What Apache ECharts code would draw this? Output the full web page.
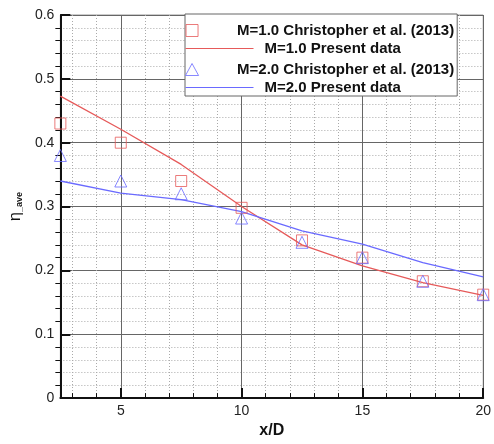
<!DOCTYPE html>
<html>
<head>
<meta charset="utf-8">
<script src="https://cdn.jsdelivr.net/npm/echarts@6/dist/echarts.min.js"></script>
<style>
  html, body { margin: 0; padding: 0; background: #fff; }
  #main { width: 494px; height: 444px; }
</style>
</head>
<body>
<div id="main"></div>
<script>
// data
var xPos = [2.5, 5, 7.5, 10, 12.5, 15, 17.5, 20];
var m1Exp = [0.43, 0.40, 0.34, 0.298, 0.247, 0.22, 0.183, 0.162];
var m1Sim = [0.473, 0.421, 0.366, 0.300, 0.240, 0.207, 0.181, 0.161];
var m2Exp = [0.38, 0.34, 0.32, 0.282, 0.244, 0.22, 0.183, 0.162];
var m2Sim = [0.340, 0.321, 0.311, 0.292, 0.262, 0.241, 0.212, 0.190];
var xMajor = [5, 10, 15, 20];
var xMinor = [3, 4, 6, 7, 8, 9, 11, 12, 13, 14, 16, 17, 18, 19];

var names = ['M=1.0 Christopher et al. (2013)', 'M=1.0 Present data',
             'M=2.0 Christopher et al. (2013)', 'M=2.0 Present data'];

var RED = '#e65a5a';
var BLUE = '#6a6aff';
var FONT = 'Liberation Sans, Arial, sans-serif';
var SQUARE_ICON = 'path://M0,0H11V11H0Z';
var TRI_ICON = 'path://M6,0L12,11H0Z';

function legendText() {
    return {
        fontFamily: FONT,
        fontWeight: 'bold',
        fontSize: 15,
        color: '#111',
        lineHeight: 12,
        padding: [0, 0, 0, 6]
    };
}

function pairs(xs, ys) {
    return xs.map(function (x, i) { return [x, ys[i]]; });
}

var chart = echarts.init(document.getElementById('main'));

var option = {
    animation: false,
    backgroundColor: '#fff',
    grid: {
        left: 58, right: 6, top: 15, bottom: 36,
        show: true,
        borderColor: '#999',
        borderWidth: 1
    },
    // two legends interleaved: symbols (rows 1,3, draws the box) and lines (rows 2,4)
    legend: [{
        data: [
            { name: names[0], icon: SQUARE_ICON,
              itemStyle: { color: '#fff', borderColor: RED, borderWidth: 1 } },
            { name: names[2], icon: TRI_ICON,
              itemStyle: { color: '#fff', borderColor: BLUE, borderWidth: 1 } }
        ],
        orient: 'vertical',
        left: 185,
        top: 14,
        itemWidth: 68,
        itemHeight: 12,
        itemGap: 24,
        symbolKeepAspect: true,
        padding: [9, 3, 19, 0],
        backgroundColor: '#fff',
        borderColor: '#666',
        borderWidth: 1,
        textStyle: legendText(),
        z: 4
    }, {
        data: [names[1], names[3]],
        orient: 'vertical',
        left: 185,
        top: 41,
        itemWidth: 68,
        itemHeight: 12,
        itemGap: 24,
        padding: 0,
        itemStyle: { opacity: 0 },
        lineStyle: { width: 1 },
        textStyle: legendText(),
        z: 5
    }],
    xAxis: [{
        type: 'value',
        min: 2.5,
        max: 20,
        name: 'x/D',
        nameLocation: 'middle',
        nameGap: 20,
        nameTextStyle: { fontFamily: FONT, fontWeight: 'bold', fontSize: 16, color: '#111' },
        axisLine: { show: true, lineStyle: { color: '#111', width: 2 } },
        axisTick: { show: true, inside: true, length: 10, customValues: xMajor,
                    lineStyle: { color: '#111', width: 2 } },
        axisLabel: { customValues: xMajor, margin: 6,
                     fontFamily: FONT, fontSize: 14, color: '#222' },
        splitLine: { show: true, lineStyle: { color: '#666', width: 1 } }
    }, {
        type: 'value',
        min: 2.5,
        max: 20,
        position: 'bottom',
        axisLine: { show: false },
        axisTick: { show: true, inside: true, length: 5, customValues: xMinor,
                    lineStyle: { color: '#111', width: 1 } },
        axisLabel: { show: false },
        splitLine: { show: true, lineStyle: { color: '#aaa', width: 1, type: [1, 2] } }
    }],
    yAxis: {
        type: 'value',
        min: 0,
        max: 0.6,
        interval: 0.1,
        name: '{a|η}{b|_ave}',
        nameLocation: 'middle',
        nameGap: 33,
        nameTextStyle: {
            rich: {
                a: { fontFamily: FONT, fontSize: 16, color: '#111', lineHeight: 16 },
                b: { fontFamily: FONT, fontSize: 9, fontWeight: 'bold', color: '#111',
                     verticalAlign: 'bottom', lineHeight: 16, padding: [6, 0, 0, 0] }
            }
        },
        axisLine: { show: true, lineStyle: { color: '#111', width: 2 } },
        axisTick: { show: true, inside: true, length: 10, lineStyle: { color: '#111', width: 2 } },
        minorTick: { show: true, splitNumber: 5, length: -5, lineStyle: { color: '#111', width: 1 } },
        axisLabel: { margin: 6, fontFamily: FONT, fontSize: 14, color: '#222' },
        splitLine: { show: true, lineStyle: { color: '#666', width: 1 } },
        minorSplitLine: { show: true, lineStyle: { color: '#aaa', width: 1, type: [1, 2] } }
    },
    series: [{
        name: names[0],
        type: 'scatter',
        symbol: 'rect',
        symbolSize: 11,
        data: pairs(xPos, m1Exp),
        itemStyle: { color: 'rgba(255,255,255,0)', borderColor: RED, borderWidth: 1 },
        z: 4
    }, {
        name: names[1],
        type: 'line',
        symbol: 'none',
        data: pairs(xPos, m1Sim),
        lineStyle: { color: RED, width: 1.3 },
        itemStyle: { color: RED },
        z: 3
    }, {
        name: names[2],
        type: 'scatter',
        symbol: 'triangle',
        symbolSize: 12,
        data: pairs(xPos, m2Exp),
        itemStyle: { color: 'rgba(255,255,255,0)', borderColor: BLUE, borderWidth: 1 },
        z: 4
    }, {
        name: names[3],
        type: 'line',
        symbol: 'none',
        data: pairs(xPos, m2Sim),
        lineStyle: { color: BLUE, width: 1.3 },
        itemStyle: { color: BLUE },
        z: 3
    }]
};

chart.setOption(option);
</script>
</body>
</html>
